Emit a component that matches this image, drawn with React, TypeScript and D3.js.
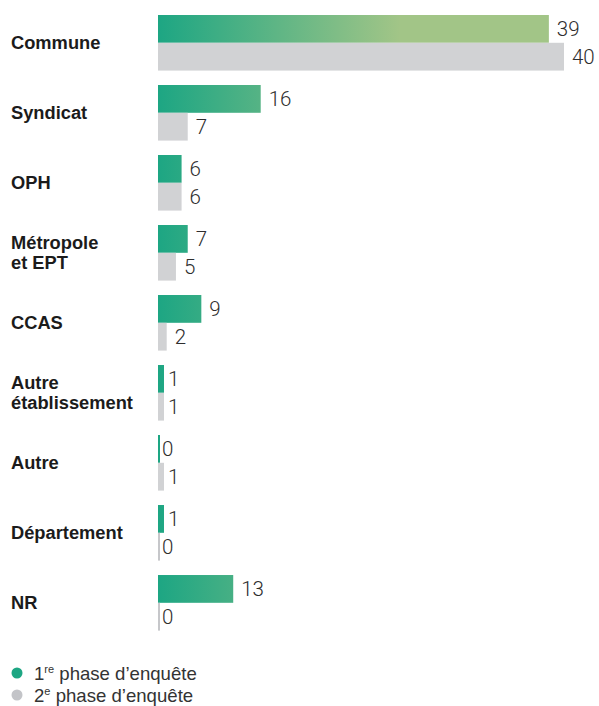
import React from "react";
import * as d3 from "d3";

const categories = [
  "Commune",
  "Syndicat",
  "OPH",
  "Métropole\net EPT",
  "CCAS",
  "Autre\nétablissement",
  "Autre",
  "Département",
  "NR",
];
const phase1 = [39, 16, 6, 7, 9, 1, 0, 1, 13];
const phase2 = [40, 7, 6, 5, 2, 1, 1, 0, 0];
const seriesKeys = ["p1", "p2"];
const legendLabels = [
  { main: "1", sup: "re", rest: " phase d’enquête" },
  { main: "2", sup: "e", rest: " phase d’enquête" },
];

const W = 599;
const H = 706;
const X0 = 158;
const GREEN_A = "#1da683";
const GREEN_B = "#a2c587";
const GREY = "#d1d2d4";
const GREY_ZERO = "#c6c7ca";
const GREY_DOT = "#c3c4c8";
const LABEL_FONT = "'Liberation Sans', Arial, sans-serif";
const NUM_FONT = "Roboto, 'Liberation Sans', sans-serif";

export default function App() {
  const y = d3
    .scaleBand<string>()
    .domain(categories)
    .range([15, 630.6])
    .paddingInner(0.206)
    .paddingOuter(0);
  const sub = d3
    .scaleBand<string>()
    .domain(seriesKeys)
    .range([0, y.bandwidth()])
    .padding(0);
  const x = d3.scalePow().exponent(1.5).domain([0, 40]).range([0, 406]);

  const barW = (v: number) => (v === 0 ? 2 : Math.max(x(v), v === 1 ? 6 : 8.7));
  const gap = (v: number) => (v === 0 ? 2 : v === 1 ? 4 : 8);

  return (
    <svg
      width={W}
      height={H}
      style={{ position: "absolute", left: 0, top: 0, background: "#fff" }}
    >
      <defs>
        <linearGradient id="g1" gradientUnits="userSpaceOnUse" x1={X0} x2={400} y1={0} y2={0}>
          <stop offset="0" stopColor={GREEN_A} />
          <stop offset="1" stopColor={GREEN_B} />
        </linearGradient>
      </defs>
      <rect x={0} y={0} width={W} height={H} fill="#fff" />
      {categories.map((c, i) => {
        const top = y(c)!;
        const lines = c.split("\n");
        const cy = top + y.bandwidth() / 2;
        const lh = 20.6;
        const vals = [phase1[i], phase2[i]];
        return (
          <g key={c + i}>
            <text
              x={11}
              fontFamily={LABEL_FONT}
              fontWeight={700}
              fontSize={18.3}
              fill="#1b1b1b"
            >
              {lines.map((ln, j) => (
                <tspan
                  key={j}
                  x={11}
                  y={cy + (j - (lines.length - 1) / 2) * lh + 6.3}
                >
                  {ln}
                </tspan>
              ))}
            </text>
            {seriesKeys.map((k, si) => {
              const v = vals[si];
              const by = top + sub(k)!;
              const bh = sub.bandwidth();
              const w = barW(v);
              const fill =
                si === 0 ? (v === 0 ? GREEN_A : "url(#g1)") : v === 0 ? GREY_ZERO : GREY;
              return (
                <g key={k}>
                  <rect x={X0} y={by} width={w} height={bh} fill={fill} />
                  <text
                    x={X0 + w + gap(v)}
                    y={by + bh / 2}
                    dy="0.36em"
                    fontFamily={NUM_FONT}
                    fontWeight={300}
                    fontSize={20.5}
                    fill="#2e2e2e"
                  >
                    {v}
                  </text>
                </g>
              );
            })}
          </g>
        );
      })}
      {legendLabels.map((l, i) => {
        const cy = 673 + i * 22;
        return (
          <g key={i}>
            <circle cx={17} cy={cy} r={5.5} fill={i === 0 ? GREEN_A : GREY_DOT} />
            <text
              x={34}
              y={cy + 7}
              fontFamily={LABEL_FONT}
              fontWeight={400}
              fontSize={18.6}
              fill="#333"
            >
              {l.main}
              <tspan fontSize={11} dy={-7}>
                {l.sup}
              </tspan>
              <tspan dy={7}>{l.rest}</tspan>
            </text>
          </g>
        );
      })}
    </svg>
  );
}
